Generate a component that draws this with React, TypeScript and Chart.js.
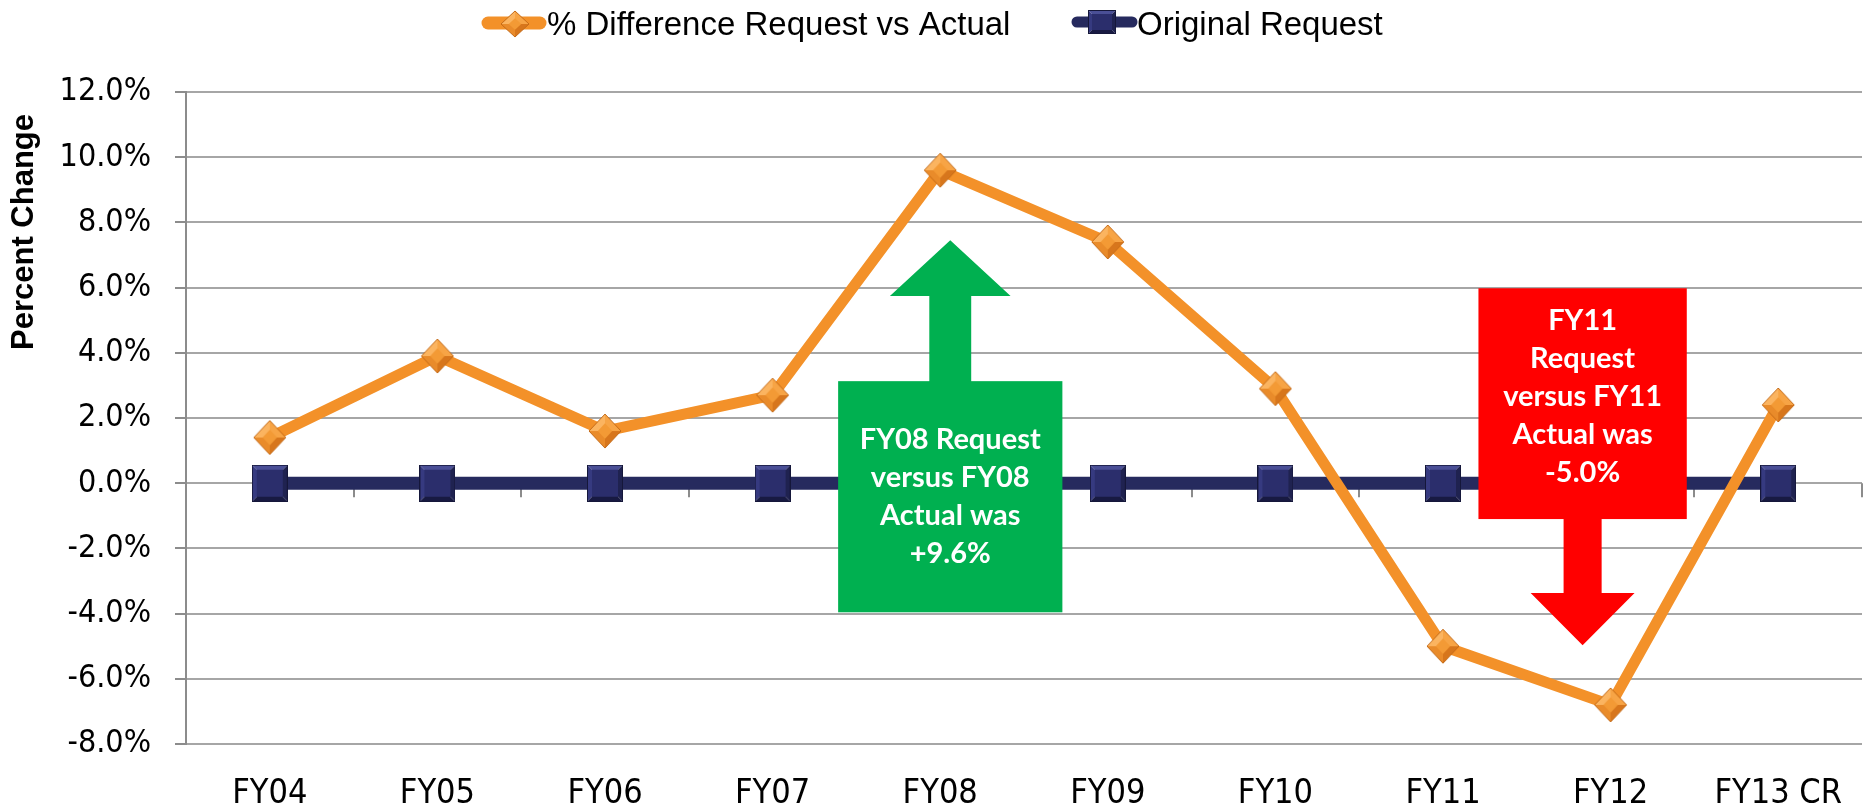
import React, { useEffect, useRef } from 'react';
import { Chart, registerables } from 'chart.js';

Chart.register(...registerables);

// ---- data ----
const categories = ['FY04', 'FY05', 'FY06', 'FY07', 'FY08', 'FY09', 'FY10', 'FY11', 'FY12', 'FY13 CR'];
const pctDifference = [1.4, 3.9, 1.6, 2.7, 9.6, 7.4, 2.9, -5.0, -6.8, 2.4];
const originalRequest = [0, 0, 0, 0, 0, 0, 0, 0, 0, 0];
const yMin = -8;
const yMax = 12;
const yStep = 2;
const legendLabels = ['% Difference Request vs Actual', 'Original Request'];
const yTitle = 'Percent Change';

const greenLines = ['FY08 Request', 'versus FY08', 'Actual was', '+9.6%'];
const redLines = ['FY11', 'Request', 'versus FY11', 'Actual was', '-5.0%'];

// ---- styling ----
const ORANGE = '#F39129';
const NAVY = '#262A5E';
const NARROW = "'Liberation Sans Narrow', 'DejaVu Sans Condensed', 'Arial Narrow', sans-serif";
const SANS = "'Liberation Sans', Arial, sans-serif";
const BOLD = "Lato, 'Open Sans', sans-serif";

// callouts anchored in data space (x: category index, y: percent)
const callouts = [
  {
    lines: greenLines, color: '#00B050', dir: 'up',
    xCenter: 4.06, xWidth: 1.338, boxTop: 3.13, boxBottom: -3.96,
    stemWidth: 0.25, headWidth: 0.72, headBase: 5.74, tip: 7.45, textOffset: 0,
  },
  {
    lines: redLines, color: '#FF0000', dir: 'down',
    xCenter: 7.833, xWidth: 1.243, boxTop: 5.98, boxBottom: -1.10,
    stemWidth: 0.227, headWidth: 0.62, headBase: -3.37, tip: -4.97, textOffset: -7,
  },
];

function makeDiamond(w: number, h: number) {
  const c = document.createElement('canvas');
  c.width = w; c.height = h;
  const g = c.getContext('2d')!;
  const cx = w / 2, cy = h / 2;
  const T = [cx, 1], B = [cx, h - 1], L = [1, cy], R = [w - 1, cy];
  const face = (a: number[], b: number[], col: string) => {
    g.beginPath(); g.moveTo(a[0], a[1]); g.lineTo(b[0], b[1]); g.lineTo(cx, cy); g.closePath();
    g.fillStyle = col; g.fill();
  };
  face(T, L, '#FBB460');
  face(T, R, '#F7A445');
  face(L, B, '#E98B2A');
  face(R, B, '#D7761C');
  const k = 0.45;
  g.beginPath();
  g.moveTo(cx, cy - (cy - 1) * k); g.lineTo(cx + (cx - 1) * k, cy);
  g.lineTo(cx, cy + (cy - 1) * k); g.lineTo(cx - (cx - 1) * k, cy); g.closePath();
  g.fillStyle = '#F39A35'; g.fill();
  g.beginPath(); g.moveTo(T[0], T[1]); g.lineTo(R[0], R[1]); g.lineTo(B[0], B[1]); g.lineTo(L[0], L[1]); g.closePath();
  g.strokeStyle = '#C46A17'; g.lineWidth = 1; g.stroke();
  return c;
}

function makeSquare(w: number, h: number) {
  const c = document.createElement('canvas');
  c.width = w; c.height = h;
  const g = c.getContext('2d')!;
  const b = Math.max(3, Math.round(w * 0.15));
  const poly = (pts: number[][], col: string) => {
    g.beginPath(); g.moveTo(pts[0][0], pts[0][1]);
    for (let i = 1; i < pts.length; i++) g.lineTo(pts[i][0], pts[i][1]);
    g.closePath(); g.fillStyle = col; g.fill();
  };
  poly([[0, 0], [w, 0], [w - b, b], [b, b]], '#4A4F96');
  poly([[0, 0], [b, b], [b, h - b], [0, h]], '#363A80');
  poly([[w, 0], [w, h], [w - b, h - b], [w - b, b]], '#1F2250');
  poly([[0, h], [b, h - b], [w - b, h - b], [w, h]], '#181A42');
  g.fillStyle = '#2B2E6C';
  g.fillRect(b, b, w - 2 * b, h - 2 * b);
  g.strokeStyle = '#15173A'; g.lineWidth = 1;
  g.strokeRect(0.5, 0.5, w - 1, h - 1);
  return c;
}

export default function App() {
  const ref = useRef<HTMLCanvasElement | null>(null);

  useEffect(() => {
    if (!ref.current) return;
    const diamond = makeDiamond(34, 36);
    const square = makeSquare(36, 37);
    const legDiamond = makeDiamond(30, 28);
    const legSquare = makeSquare(28, 24);

    const overlay = {
      id: 'overlay',
      beforeDatasetsDraw(chart: any) {
        const { ctx, scales: { x, y } } = chart;
        const y0 = y.getPixelForValue(0);
        ctx.save();
        ctx.strokeStyle = '#8C8C8C';
        ctx.lineWidth = 2;
        for (let i = 0; i <= categories.length; i++) {
          const px = Math.round(x.getPixelForValue(i - 0.5));
          ctx.beginPath(); ctx.moveTo(px, y0); ctx.lineTo(px, y0 + 14); ctx.stroke();
        }
        ctx.restore();
      },
      afterDatasetsDraw(chart: any) {
        const { ctx, scales: { x, y } } = chart;
        const unit = x.getPixelForValue(1) - x.getPixelForValue(0);
        ctx.save();
        for (const c of callouts) {
          const cx = x.getPixelForValue(c.xCenter);
          const halfW = (c.xWidth * unit) / 2;
          const top = y.getPixelForValue(c.boxTop);
          const bottom = y.getPixelForValue(c.boxBottom);
          ctx.fillStyle = c.color;
          ctx.fillRect(cx - halfW, top, 2 * halfW, bottom - top);
          const sw = (c.stemWidth * unit) / 2;
          const hw = (c.headWidth * unit) / 2;
          const base = y.getPixelForValue(c.headBase);
          const tip = y.getPixelForValue(c.tip);
          const edge = c.dir === 'up' ? top + 1 : bottom - 1;
          ctx.beginPath();
          ctx.moveTo(cx - sw, edge); ctx.lineTo(cx - sw, base); ctx.lineTo(cx - hw, base);
          ctx.lineTo(cx, tip); ctx.lineTo(cx + hw, base); ctx.lineTo(cx + sw, base);
          ctx.lineTo(cx + sw, edge); ctx.closePath(); ctx.fill();
          ctx.fillStyle = '#FFFFFF';
          ctx.font = `bold 29px ${BOLD}`;
          ctx.textAlign = 'center';
          ctx.textBaseline = 'middle';
          const lh = 38;
          const mid = (top + bottom) / 2 + c.textOffset;
          c.lines.forEach((l, i) => ctx.fillText(l, cx, mid + (i - (c.lines.length - 1) / 2) * lh));
        }
        ctx.restore();
      },
      afterDraw(chart: any) {
        const { ctx } = chart;
        ctx.save();
        // legend
        ctx.lineCap = 'round';
        ctx.strokeStyle = ORANGE; ctx.lineWidth = 13;
        ctx.beginPath(); ctx.moveTo(488, 23); ctx.lineTo(540, 23); ctx.stroke();
        ctx.drawImage(legDiamond, 515 - 15, 24 - 14);
        ctx.strokeStyle = NAVY; ctx.lineWidth = 11;
        ctx.beginPath(); ctx.moveTo(1077, 22); ctx.lineTo(1132, 22); ctx.stroke();
        ctx.drawImage(legSquare, 1102 - 14, 22 - 12);
        ctx.fillStyle = '#000';
        ctx.font = `33px ${SANS}`;
        ctx.textAlign = 'left';
        ctx.textBaseline = 'alphabetic';
        ctx.fillText(legendLabels[0], 547, 35);
        ctx.fillText(legendLabels[1], 1137, 35);
        // y title
        ctx.translate(24, 232);
        ctx.rotate(-Math.PI / 2);
        ctx.font = `bold 31px ${SANS}`;
        ctx.textAlign = 'center';
        ctx.textBaseline = 'middle';
        ctx.fillText(yTitle, 0, 0);
        ctx.restore();
      },
    };

    const chart = new Chart(ref.current, {
      type: 'line',
      data: {
        labels: categories,
        datasets: [
          {
            label: legendLabels[0],
            data: pctDifference,
            borderColor: ORANGE,
            backgroundColor: ORANGE,
            borderWidth: 11,
            borderJoinStyle: 'round',
            borderCapStyle: 'round',
            pointStyle: diamond as any,
            pointRadius: 1,
            pointHoverRadius: 1,
            pointBorderWidth: 0,
            tension: 0,
            clip: false,
          },
          {
            label: legendLabels[1],
            data: originalRequest,
            borderColor: NAVY,
            backgroundColor: NAVY,
            borderWidth: 13,
            pointStyle: square as any,
            pointRadius: 1,
            pointHoverRadius: 1,
            pointBorderWidth: 0,
            tension: 0,
            clip: false,
          },
        ],
      },
      options: {
        responsive: false,
        animation: false,
        devicePixelRatio: 1,
        layout: { autoPadding: false, padding: { top: 92, right: 5, left: 0, bottom: 0 } },
        plugins: { legend: { display: false }, tooltip: { enabled: false } },
        scales: {
          x: {
            offset: true,
            grid: { display: false, drawTicks: false },
            border: { display: false },
            ticks: {
              font: { family: NARROW, size: 34 },
              color: '#000',
              padding: 30,
              maxRotation: 0,
              autoSkip: false,
            },
            afterFit(s: any) { s.height = 66; s.paddingLeft = 0; s.paddingRight = 0; },
          },
          y: {
            min: yMin,
            max: yMax,
            ticks: {
              stepSize: yStep,
              callback: (v: any) => Number(v).toFixed(1) + '%',
              font: { family: NARROW, size: 32 },
              color: '#000',
              padding: 24,
            },
            grid: { color: '#A6A6A6', lineWidth: 2, tickLength: 11, drawTicks: true, tickColor: '#8C8C8C' },
            border: { display: true, color: '#8C8C8C', width: 2 },
            afterFit(s: any) { s.width = 186; s.paddingTop = 0; s.paddingBottom = 0; },
          },
        },
      },
      plugins: [overlay],
    } as any);
    return () => chart.destroy();
  }, []);

  return (
    <div style={{ position: 'fixed', left: 0, top: 0, width: 1867, height: 810, background: '#fff' }}>
      <canvas ref={ref} width={1867} height={810} />
    </div>
  );
}
